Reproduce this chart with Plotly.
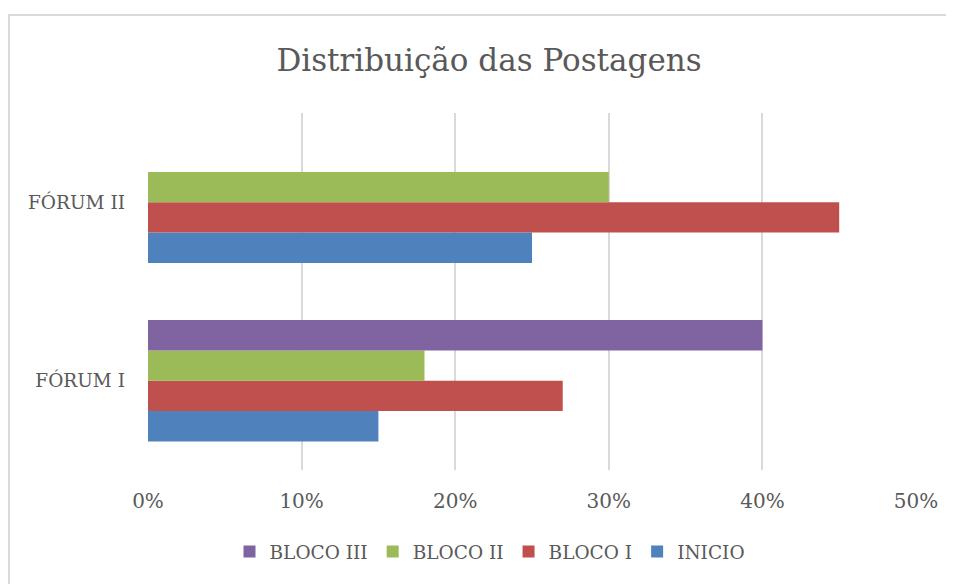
import plotly.graph_objects as go

# data
forums = ["FÓRUM I", "FÓRUM II"]
inicio = [0.15, 0.25]
bloco1 = [0.27, 0.45]
bloco2 = [0.18, 0.30]
bloco3 = [0.40, None]

series = [
    ("INICIO", inicio, "#4f81bd"),
    ("BLOCO I", bloco1, "#c0504d"),
    ("BLOCO II", bloco2, "#9bbb59"),
    ("BLOCO III", bloco3, "#8064a2"),
]

font_family = "DejaVu Serif"
grey = "#595959"

fig = go.Figure()
for name, vals, col in series:
    fig.add_trace(go.Bar(
        y=forums, x=vals, name=name, orientation="h",
        marker=dict(color=col, line=dict(width=0)),
    ))

# page has an 8px body margin, so the figure is 8px smaller and shifted
fig.update_layout(
    width=946, height=576,
    barmode="group", bargap=0.32, bargroupgap=0,
    paper_bgcolor="white", plot_bgcolor="white",
    margin=dict(l=140, r=38, t=105, b=114),
    font=dict(family=font_family, color=grey),
    title=dict(text="Distribuição das Postagens", x=481 / 946, xanchor="center",
               y=1 - 52 / 576, yanchor="middle",
               font=dict(size=31, color=grey, family=font_family)),
    legend=dict(orientation="h", traceorder="reversed",
                x=482 / 946, xanchor="center", xref="container",
                y=1 - 544 / 576, yanchor="middle", yref="container",
                font=dict(size=18.5, color=grey), itemwidth=30),
    showlegend=True,
)
fig.update_xaxes(range=[0, 0.5], dtick=0.1, tickformat=".0%",
                 showgrid=True, gridcolor="#d9d9d9", gridwidth=2,
                 zeroline=False, showline=False,
                 tickfont=dict(size=20, color=grey), ticklabelstandoff=17)
fig.update_yaxes(showgrid=False, showline=False, zeroline=False,
                 tickfont=dict(size=18.5, color=grey), ticklabelstandoff=22)

# outer chart border
fig.add_shape(type="rect", xref="paper", yref="paper",
              x0=-0.181, x1=1.2, y0=-0.5, y1=1.2745,
              line=dict(color="#d9d9d9", width=2), layer="below")

fig.write_html("out.html")
